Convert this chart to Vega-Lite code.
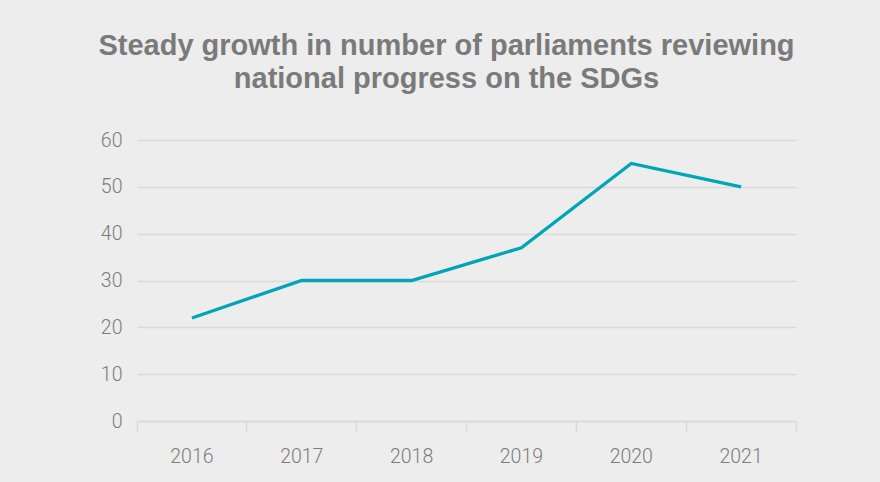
{
  "$schema": "https://vega.github.io/schema/vega-lite/v6.json",
  "width": 659,
  "height": 281,
  "autosize": "none",
  "padding": {"left": 137, "top": 140, "right": 84, "bottom": 61},
  "background": "#ecedec",
  "title": {
    "text": ["Steady growth in number of parliaments reviewing", "national progress on the SDGs"],
    "font": "Liberation Sans",
    "fontSize": 29,
    "fontWeight": "bold",
    "color": "#7a7a7a",
    "lineHeight": 33,
    "anchor": "middle",
    "frame": "group",
    "dx": -20,
    "offset": 36
  },
  "data": {
    "values": [
      {"year": "2016", "value": 22},
      {"year": "2017", "value": 30},
      {"year": "2018", "value": 30},
      {"year": "2019", "value": 37},
      {"year": "2020", "value": 55},
      {"year": "2021", "value": 50}
    ]
  },
  "config": {
    "view": {"stroke": null},
    "axis": {
      "labelFont": "Roboto",
      "labelFontWeight": 300,
      "labelFontSize": 19.5,
      "labelColor": "#7c7c7c",
      "title": null
    }
  },
  "mark": {"type": "line", "color": "#00a5b6", "strokeWidth": 3.3},
  "encoding": {
    "x": {
      "field": "year",
      "type": "ordinal",
      "scale": {"type": "band", "paddingInner": 0, "paddingOuter": 0},
      "axis": {
        "labelAngle": 0,
        "bandPosition": 1,
        "tickExtra": true,
        "ticks": true,
        "tickSize": 11,
        "tickColor": "#d9dada",
        "tickWidth": 1.5,
        "domainColor": "#d9dada",
        "domainWidth": 1.5,
        "labelPadding": 15,
        "grid": false
      }
    },
    "y": {
      "field": "value",
      "type": "quantitative",
      "scale": {"domain": [0, 60], "nice": false},
      "axis": {
        "values": [0, 10, 20, 30, 40, 50, 60],
        "domain": false,
        "ticks": false,
        "labelPadding": 15,
        "grid": true,
        "gridColor": "#d9dada",
        "gridWidth": 1.5
      }
    }
  }
}
